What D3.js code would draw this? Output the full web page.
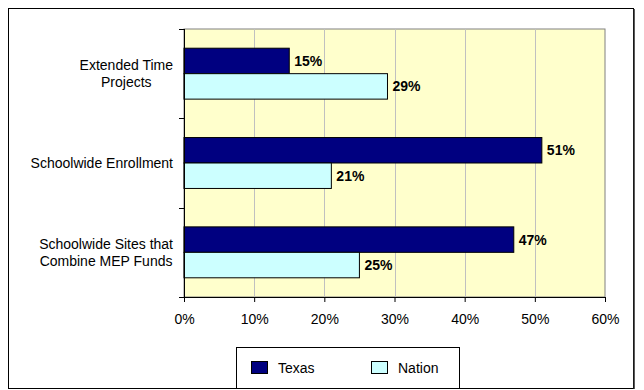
<!DOCTYPE html>
<html>
<head>
    <script src="https://cdnjs.cloudflare.com/ajax/libs/d3/7.8.5/d3.min.js"></script>
    <style>
        body { margin: 0; background: white; font-family: "Liberation Sans", Arial, sans-serif; }
        .tick-label { font-size: 14px; fill: #000; }
        .cat-label { font-size: 14px; fill: #000; }
        .value-label { font-size: 14px; font-weight: bold; fill: #000; }
        .legend-text { font-size: 14px; fill: #000; }
    </style>
</head>
<body>
    <div id="chart"></div>
    <script>
        const categories = ["Extended Time Projects", "Schoolwide Enrollment", "Schoolwide Sites that Combine MEP Funds"];
        const categoryLines = [["Extended Time", "Projects"], ["Schoolwide Enrollment"], ["Schoolwide Sites that", "Combine MEP Funds"]];
        const seriesNames = ["Texas", "Nation"];
        const texasValues = [15, 51, 47];
        const nationValues = [29, 21, 25];
        const xTicks = [0, 10, 20, 30, 40, 50, 60];
        const colors = { Texas: "#000080", Nation: "#CCFFFF" };

        const W = 644, H = 390;
        const plot = { left: 184, right: 605, top: 29, bottom: 297 };

        const svg = d3.select("#chart").append("svg")
            .attr("width", W)
            .attr("height", H);

        // outer chart border
        svg.append("rect")
            .attr("x", 8.5).attr("y", 8.5)
            .attr("width", 625).attr("height", 380)
            .attr("fill", "white")
            .attr("stroke", "#000")
            .attr("stroke-width", 1);
        svg.append("line").attr("x1", 634).attr("x2", 634).attr("y1", 9).attr("y2", 389)
            .attr("stroke", "#222").attr("stroke-width", 1.5);

        const x = d3.scaleLinear().domain([0, 60]).range([plot.left, plot.right]);
        const y = d3.scaleBand().domain(categories).range([plot.top, plot.bottom])
            .paddingInner(0.43).paddingOuter(0.215);
        const ySub = d3.scaleBand().domain(seriesNames).range([0, y.bandwidth()]);

        // plot background
        svg.append("rect")
            .attr("x", plot.left).attr("y", plot.top)
            .attr("width", plot.right - plot.left).attr("height", plot.bottom - plot.top)
            .attr("fill", "#FFFFCC")
            .attr("stroke", "#808080")
            .attr("stroke-width", 1);

        // gridlines
        svg.append("g")
            .selectAll("line")
            .data(xTicks.slice(1, -1))
            .join("line")
            .attr("x1", d => Math.round(x(d)) + 0.5).attr("x2", d => Math.round(x(d)) + 0.5)
            .attr("y1", plot.top).attr("y2", plot.bottom)
            .attr("stroke", "#c0c0c0");

        // bars
        const rows = categories.map((c, i) => ({ cat: c, Texas: texasValues[i], Nation: nationValues[i] }));
        const groups = svg.append("g").selectAll("g")
            .data(rows)
            .join("g")
            .attr("transform", d => `translate(0,${y(d.cat)})`);

        groups.selectAll("rect")
            .data(d => seriesNames.map(s => ({ s, v: d[s] })))
            .join("rect")
            .attr("x", x(0))
            .attr("y", d => ySub(d.s))
            .attr("width", d => x(d.v) - x(0))
            .attr("height", ySub.bandwidth())
            .attr("fill", d => colors[d.s])
            .attr("stroke", "#000")
            .attr("stroke-width", 1);

        groups.selectAll("text")
            .data(d => seriesNames.map(s => ({ s, v: d[s] })))
            .join("text")
            .attr("class", "value-label")
            .attr("x", d => x(d.v) + 5)
            .attr("y", d => ySub(d.s) + ySub.bandwidth() / 2)
            .attr("dy", "0.36em")
            .text(d => d.v + "%");

        // x axis
        const xAxis = svg.append("g")
            .attr("transform", `translate(0,${plot.bottom})`)
            .call(d3.axisBottom(x).tickValues(xTicks).tickFormat(d => d + "%").tickSize(5).tickPadding(12));
        xAxis.select(".domain").attr("stroke", "#000");
        xAxis.selectAll(".tick text").attr("class", "tick-label").attr("font-family", null).attr("font-size", null);

        // y axis (category boundaries ticks)
        const boundaries = categories.map(c => y(c) - y.step() * y.paddingInner() / 2);
        boundaries.push(plot.bottom);
        svg.append("line")
            .attr("x1", plot.left + 0.5).attr("x2", plot.left + 0.5)
            .attr("y1", plot.top).attr("y2", plot.bottom)
            .attr("stroke", "#000");
        svg.append("g").selectAll("line")
            .data(boundaries)
            .join("line")
            .attr("x1", plot.left - 5).attr("x2", plot.left)
            .attr("y1", d => Math.round(d) + 0.5).attr("y2", d => Math.round(d) + 0.5)
            .attr("stroke", "#000");

        // category labels: block right-aligned, lines centred within it
        const labelRight = 173;
        svg.append("g").selectAll("text")
            .data(categories)
            .join("text")
            .attr("class", "cat-label")
            .attr("text-anchor", "middle")
            .attr("y", d => y(d) + y.bandwidth() / 2)
            .each(function (d, i) {
                const lines = categoryLines[i];
                const t = d3.select(this);
                const spans = lines.map((line, j) => t.append("tspan")
                    .attr("dy", j === 0 ? (0.35 - (lines.length - 1) * 0.62) + "em" : "1.24em")
                    .text(line));
                const maxW = d3.max(spans, s => s.node().getComputedTextLength());
                spans.forEach(s => s.attr("x", labelRight - maxW / 2));
            });

        // legend
        const legend = svg.append("g");
        legend.append("rect")
            .attr("x", 236.5).attr("y", 347.5)
            .attr("width", 223).attr("height", 41)
            .attr("fill", "white")
            .attr("stroke", "#000");
        const legendX = [251, 371];
        seriesNames.forEach((s, i) => {
            legend.append("rect")
                .attr("x", legendX[i] + 0.5).attr("y", 361.5)
                .attr("width", 16).attr("height", 12)
                .attr("fill", colors[s])
                .attr("stroke", "#000");
            legend.append("text")
                .attr("class", "legend-text")
                .attr("x", legendX[i] + 27)
                .attr("y", 373)
                .text(s);
        });
    </script>
</body>
</html>
